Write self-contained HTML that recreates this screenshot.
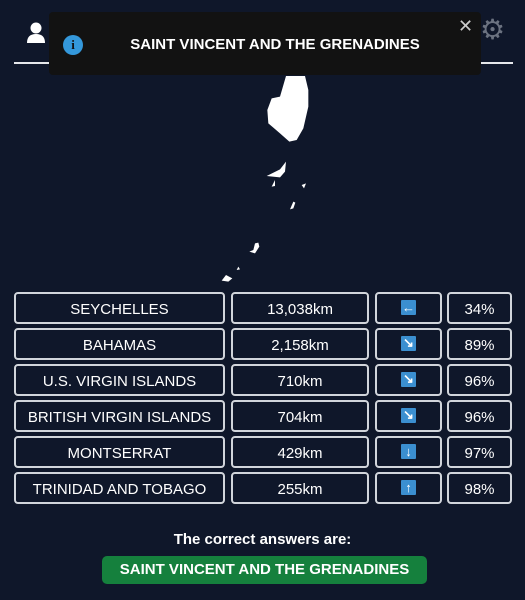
<!DOCTYPE html>
<html><head><meta charset="utf-8"><style>
body{margin:0;width:525px;height:600px;background:#0f172a;font-family:"Liberation Sans",sans-serif;color:#fff;position:relative;overflow:hidden}
.abs{position:absolute}
.cell{position:absolute;height:28px;border:2px solid #d1d5db;border-radius:4px;box-sizing:content-box;display:flex;align-items:center;justify-content:center;font-size:15px;color:#fff;padding-top:3px;height:25px}
.arrow{width:15px;height:15px;background:#3b8fd0;border-radius:1px;display:flex;align-items:center;justify-content:center;font-size:13px;font-weight:bold;color:#fff;margin-top:-5px}
</style></head><body>
<div class="abs" style="left:14px;top:62px;width:499px;height:2px;background:#e5e7eb"></div>
<svg class="abs" style="left:26px;top:22px" width="20" height="22" viewBox="0 0 20 22"><circle cx="10" cy="6" r="5.5" fill="#fff"/><path d="M1 21 Q1 12 10 12 Q19 12 19 21Z" fill="#fff"/></svg>
<div class="abs" style="left:480px;top:15px;font-size:28px;color:#6b7280;line-height:30px">⚙</div>
<svg class="abs" style="left:200px;top:70px" width="120" height="220" viewBox="0 0 360 660">
<path d="M258 18 L315 18 L325 60 L325 110 L310 175 L290 210 L268 215 L240 190 L205 160 L202 120 L215 85 L240 80 Z" fill="#fff"/>
<path d="M258 275 L240 298 L200 318 L240 322 L255 305 Z" fill="#fff"/>
<path d="M225 330 L215 350 L225 348 Z" fill="#fff"/>
<path d="M305 345 L312 355 L318 340 Z" fill="#fff"/>
<path d="M280 395 L270 418 L280 415 L286 398 Z" fill="#fff"/>
<path d="M165 520 L160 540 L148 545 L165 550 L178 530 L175 518 Z" fill="#fff"/>
<path d="M115 590 L110 600 L120 598 Z" fill="#fff"/>
<path d="M78 615 L65 632 L85 635 L97 625 Z" fill="#fff"/>
</svg>
<div class="abs" style="left:49px;top:12px;width:432px;height:63px;background:#121212;border-radius:4px">
<div class="abs" style="left:14px;top:23px;width:20px;height:20px;border-radius:50%;background:#3498db;color:#111;font:bold 13px 'Liberation Serif',serif;text-align:center;line-height:20px">i</div>
<div class="abs" style="left:20px;width:412px;top:24px;text-align:center;font-weight:bold;font-size:15px">SAINT VINCENT AND THE GRENADINES</div>
<div class="abs" style="left:409px;top:4px;font-size:18px;color:#ccc">✕</div>
</div>
<div id="rows"></div>
<div class="abs" style="left:0;width:525px;top:531px;text-align:center;font-size:15px;font-weight:bold">The correct answers are:</div>
<div class="abs" style="left:102px;top:556px;width:325px;height:28px;background:#15803d;border-radius:5px;text-align:center;line-height:28px;font-size:15px;font-weight:bold">SAINT VINCENT AND THE GRENADINES</div>
<script>
const countries=["SEYCHELLES","BAHAMAS","U.S. VIRGIN ISLANDS","BRITISH VIRGIN ISLANDS","MONTSERRAT","TRINIDAD AND TOBAGO"];
const distances=["13,038km","2,158km","710km","704km","429km","255km"];
const arrows=["←","↘","↘","↘","↓","↑"];
const percents=["34%","89%","96%","96%","97%","98%"];
const root=document.getElementById('rows');
countries.forEach((c,i)=>{
  const top=292+i*36;
  const cols=[[14,207,c,'guess-country'],[231,134,distances[i],'guess-distance'],[375,63,null,'guess-direction'],[447,61,percents[i],'guess-proximity']];
  cols.forEach(([l,w,t,n])=>{
    const d=document.createElement('div');
    d.className='cell';
    d.style.left=l+'px';d.style.top=top+'px';d.style.width=w+'px';
    
    
    if(t!==null){d.textContent=t;}
    else{const a=document.createElement('div');a.className='arrow';a.textContent=arrows[i];
      
      
      d.appendChild(a);}
    root.appendChild(d);
  });
});
</script>
</body></html>
